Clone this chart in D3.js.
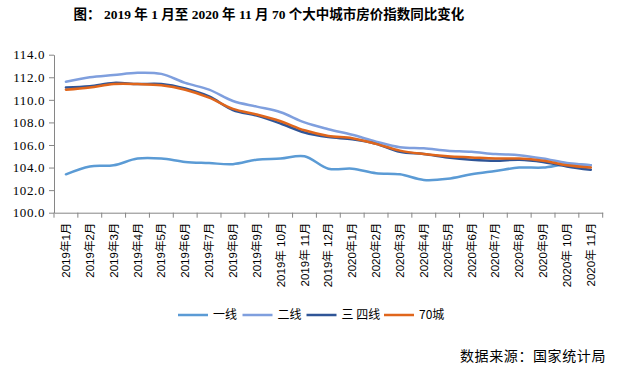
<!DOCTYPE html>
<html>
<head>
<meta charset="utf-8">
<script src="https://cdn.jsdelivr.net/npm/d3@7"></script>
<style>
  body { margin: 0; background: #fff; }
  svg { display: block; }
</style>
</head>
<body>
<div id="chart"></div>
<script>
// months on the x axis
let months = ['2019年1月','2019年2月','2019年3月','2019年4月','2019年5月','2019年6月',
  '2019年7月','2019年8月','2019年9月','2019年 10月','2019年 11月','2019年 12月',
  '2020年1月','2020年2月','2020年3月','2020年4月','2020年5月','2020年6月',
  '2020年7月','2020年8月','2020年9月','2020年 10月','2020年 11月'];

let tier1 = [103.4,104.1,104.2,104.8,104.8,104.5,104.4,104.3,104.7,104.8,105.0,103.9,
  103.9,103.5,103.4,102.9,103.0,103.4,103.7,104.0,104.0,104.3,104.2];
let tier2 = [111.6,112.0,112.2,112.4,112.3,111.5,110.9,109.9,109.4,108.9,108.0,107.4,
  106.9,106.3,105.8,105.7,105.5,105.4,105.2,105.1,104.8,104.4,104.2];
let tier34 = [111.1,111.2,111.5,111.4,111.4,111.0,110.3,109.1,108.6,107.9,107.1,106.7,
  106.5,106.1,105.4,105.2,104.9,104.7,104.6,104.7,104.5,104.1,103.8];
let city70 = [110.9,111.1,111.4,111.4,111.3,110.9,110.2,109.2,108.7,108.1,107.3,106.8,
  106.6,106.1,105.5,105.2,105.0,104.9,104.8,104.8,104.6,104.2,104.0];

let seriesNames = ['一线','二线','三 四线','70城'];
let yTicks = [100,102,104,106,108,110,112,114];

let colors = ['#5B9BD5','#7F9FDE','#2F5597','#E0661C'];
let series = [tier1, tier2, tier34, city70];

let width = 623, height = 371;
let margin = {top: 54.7, right: 20.3, bottom: 158.3, left: 54};

let svg = d3.select('#chart').append('svg')
  .attr('width', width)
  .attr('height', height);

svg.append('text')
  .attr('x', 269)
  .attr('y', 19)
  .attr('text-anchor', 'middle')
  .style('font-family', '"Liberation Serif", "Noto Sans CJK SC", serif')
  .style('font-weight', 'bold')
  .style('font-size', '13.5px')
  .text('图：  2019 年 1 月至 2020 年 11 月 70 个大中城市房价指数同比变化');

let x = d3.scaleBand()
  .domain(months)
  .range([margin.left, width - margin.right]);

let y = d3.scaleLinear()
  .domain([100, 114])
  .range([height - margin.bottom, margin.top]);

let axisColor = '#868686';

// y axis
let yAxis_g = svg.append('g')
  .attr('transform', 'translate(' + margin.left + ',0)')
  .call(d3.axisLeft(y).tickValues(yTicks).tickSize(5).tickSizeOuter(0)
    .tickFormat(d3.format('.1f')));
yAxis_g.select('.domain').attr('stroke', axisColor);
yAxis_g.selectAll('.tick line').attr('stroke', axisColor);
yAxis_g.selectAll('.tick text')
  .attr('x', -9)
  .style('font-family', '"Liberation Serif", serif')
  .style('font-size', '13px')
  .style('letter-spacing', '0.6px')
  .attr('fill', '#000');

// x axis
let x0 = y(100);
let xAxis_g = svg.append('g')
  .attr('transform', 'translate(0,' + x0 + ')')
  .call(d3.axisBottom(x).tickSize(0).tickSizeOuter(0));
xAxis_g.select('.domain').attr('stroke', axisColor);
xAxis_g.selectAll('.tick text')
  .attr('transform', 'rotate(-90)')
  .attr('x', -10)
  .attr('y', 0)
  .attr('dy', '0.35em')
  .attr('text-anchor', 'end')
  .style('font-family', '"Liberation Sans", "Noto Sans CJK SC", sans-serif')
  .style('font-size', '11.5px')
  .attr('fill', '#000');

let bounds = months.map(function(m) { return x(m); }).concat([x(months[months.length - 1]) + x.bandwidth()]);
svg.append('g').selectAll('line')
  .data(bounds)
  .enter().append('line')
  .attr('x1', function(d) { return d; })
  .attr('x2', function(d) { return d; })
  .attr('y1', x0)
  .attr('y2', x0 + 5)
  .attr('stroke', axisColor);

// lines
let line = d3.line()
  .x(function(d, i) { return x(months[i]) + x.bandwidth() / 2; })
  .y(function(d) { return y(d); })
  .curve(d3.curveCatmullRom.alpha(0.5));

svg.append('g').selectAll('path')
  .data(series)
  .enter().append('path')
  .attr('d', line)
  .attr('fill', 'none')
  .attr('stroke', function(d, i) { return colors[i]; })
  .attr('stroke-width', 2.5)
  .attr('stroke-linecap', 'round');

// legend
let legendX = [178, 242.5, 306.5, 384];
let legend = svg.append('g').selectAll('g')
  .data(seriesNames)
  .enter().append('g')
  .attr('transform', function(d, i) { return 'translate(' + legendX[i] + ',315)'; });
legend.append('line')
  .attr('x1', 0).attr('x2', 30)
  .attr('stroke', function(d, i) { return colors[i]; })
  .attr('stroke-width', 2.5);
legend.append('text')
  .attr('x', 35)
  .attr('dy', '0.35em')
  .style('font-family', '"Noto Sans CJK SC", sans-serif')
  .style('font-size', '12px')
  .text(function(d) { return d; });

svg.append('text')
  .attr('x', 606)
  .attr('y', 361)
  .attr('text-anchor', 'end')
  .style('font-family', '"Noto Sans CJK SC", sans-serif')
  .style('font-size', '14px')
  .style('letter-spacing', '0.6px')
  .text('数据来源：国家统计局');
</script>
</body>
</html>
